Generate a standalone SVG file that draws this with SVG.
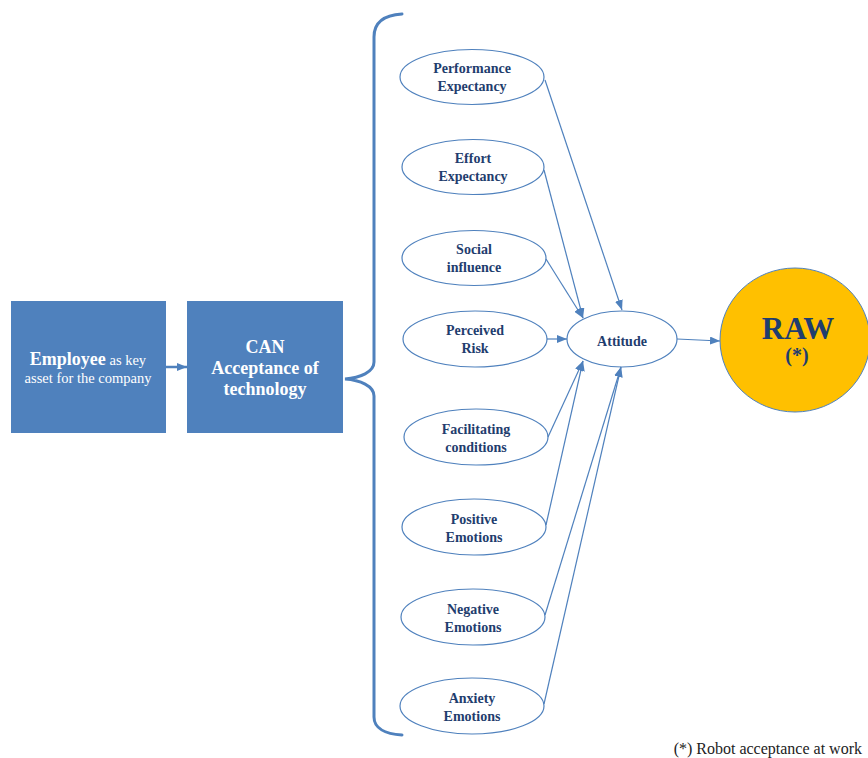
<svg xmlns="http://www.w3.org/2000/svg" width="868" height="758" viewBox="0 0 868 758">
  <style>
    .serif { font-family: "Liberation Serif", "Times New Roman", Tinos, "DejaVu Serif", "Noto Serif", serif; }
    .box { fill: #4F81BD; }
    .boxtxt { fill: #FFFFFF; text-anchor: middle; }
    .oval { fill: #FFFFFF; stroke: #4F81BD; stroke-width: 1.2; }
    .otxt { font-weight: bold; font-size: 14px; fill: #1F3D6E; text-anchor: middle; }
    .link { fill: none; stroke: #4F81BD; stroke-width: 1.2; }
    .brace { fill: none; stroke: #4F81BD; stroke-width: 3; stroke-linecap: round; }
  </style>
  <defs>
    <marker id="arrow" markerUnits="userSpaceOnUse" markerWidth="10" markerHeight="8" viewBox="0 0 10 8" refX="10" refY="4" orient="auto">
      <path d="M0,0 L10,4 L0,8 z" fill="#4F81BD"/>
    </marker>
  </defs>

  <g class="serif">
  <!-- source boxes -->
  <g id="employee">
    <rect class="box" x="11" y="301" width="155" height="132"/>
    <text class="boxtxt" x="88" y="365"><tspan font-weight="bold" font-size="18">Employee</tspan><tspan font-size="14.5"> as key</tspan></text>
    <text class="boxtxt" x="88" y="383" font-size="14.5">asset for the company</text>
  </g>
  <g id="can">
    <rect class="box" x="187" y="301" width="156" height="132"/>
    <text class="boxtxt" x="265" y="353" font-size="18" font-weight="bold">CAN</text>
    <text class="boxtxt" x="265" y="374" font-size="18" font-weight="bold">Acceptance of</text>
    <text class="boxtxt" x="265" y="395" font-size="18" font-weight="bold">technology</text>
  </g>

  <!-- factor ellipses -->
  <g id="performance">
    <ellipse class="oval" cx="472" cy="77" rx="72" ry="27.5"/>
    <text class="otxt" x="472" y="73">Performance</text>
    <text class="otxt" x="472" y="91">Expectancy</text>
  </g>
  <g id="effort">
    <ellipse class="oval" cx="473" cy="167" rx="71" ry="27.5"/>
    <text class="otxt" x="473" y="163">Effort</text>
    <text class="otxt" x="473" y="181">Expectancy</text>
  </g>
  <g id="social">
    <ellipse class="oval" cx="474" cy="258" rx="72" ry="27.5"/>
    <text class="otxt" x="474" y="254">Social</text>
    <text class="otxt" x="474" y="272">influence</text>
  </g>
  <g id="risk">
    <ellipse class="oval" cx="475" cy="339" rx="72" ry="28"/>
    <text class="otxt" x="475" y="335">Perceived</text>
    <text class="otxt" x="475" y="353">Risk</text>
  </g>
  <g id="facilitating">
    <ellipse class="oval" cx="476" cy="437" rx="72" ry="28"/>
    <text class="otxt" x="476" y="434">Facilitating</text>
    <text class="otxt" x="476" y="452">conditions</text>
  </g>
  <g id="positive">
    <ellipse class="oval" cx="474" cy="527" rx="72" ry="28"/>
    <text class="otxt" x="474" y="524">Positive</text>
    <text class="otxt" x="474" y="542">Emotions</text>
  </g>
  <g id="negative">
    <ellipse class="oval" cx="473" cy="617" rx="72" ry="28"/>
    <text class="otxt" x="473" y="614">Negative</text>
    <text class="otxt" x="473" y="632">Emotions</text>
  </g>
  <g id="anxiety">
    <ellipse class="oval" cx="472" cy="706" rx="72" ry="28"/>
    <text class="otxt" x="472" y="703">Anxiety</text>
    <text class="otxt" x="472" y="721">Emotions</text>
  </g>

  <g id="attitude">
    <ellipse class="oval" cx="622" cy="339" rx="55" ry="28"/>
    <text class="otxt" x="622" y="346" font-size="16.5">Attitude</text>
  </g>

  <g id="raw">
    <ellipse cx="795" cy="340" rx="75" ry="72" fill="#FFC000" stroke="#4F81BD" stroke-width="1"/>
    <text x="798" y="339" font-weight="bold" font-size="31" fill="#1F3D6E" text-anchor="middle">RAW</text>
    <text x="797" y="362" font-weight="bold" font-size="20" fill="#1F3D6E" text-anchor="middle">(*)</text>
  </g>

  <!-- connectors -->
  <g id="connectors">
    <line x1="166" y1="367" x2="187" y2="367" stroke="#4F81BD" stroke-width="2.5" marker-end="url(#arrow)"/>
    <path class="brace" d="M402,14 C385,15 374,21 374,37 L374,362 C374,372 360,378 345,379 C360,380 374,386 374,396 L374,717 C374,728 385,734 402,735"/>
    <line class="link" x1="545" y1="80" x2="622" y2="310" marker-end="url(#arrow)"/>
    <line class="link" x1="544" y1="170" x2="583" y2="318" marker-end="url(#arrow)"/>
    <line class="link" x1="546" y1="259" x2="583" y2="318" marker-end="url(#arrow)"/>
    <line class="link" x1="547" y1="339" x2="567" y2="339" marker-end="url(#arrow)"/>
    <line class="link" x1="548" y1="437" x2="583" y2="361" marker-end="url(#arrow)"/>
    <line class="link" x1="546" y1="525" x2="583" y2="361" marker-end="url(#arrow)"/>
    <line class="link" x1="545" y1="615" x2="621" y2="367" marker-end="url(#arrow)"/>
    <line class="link" x1="544" y1="704" x2="621" y2="367" marker-end="url(#arrow)"/>
    <line class="link" x1="677" y1="339" x2="720" y2="341" marker-end="url(#arrow)"/>
  </g>

  <text x="862" y="754" font-size="16" fill="#222222" text-anchor="end">(*) Robot acceptance at work</text>
  </g>
</svg>
